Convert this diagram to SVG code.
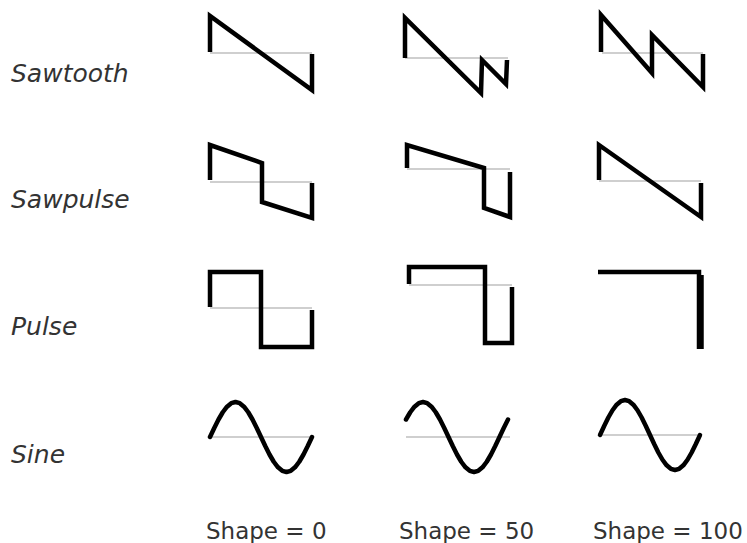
<svg xmlns="http://www.w3.org/2000/svg" width="747" height="543" viewBox="0 0 747 543">
<style>
.lbl{font-family:"DejaVu Sans","Noto Sans",sans-serif;font-style:italic;font-size:25px;fill:#333}
.cap{font-family:"DejaVu Sans","Noto Sans",sans-serif;font-size:23px;fill:#333}
.axis{stroke:#cfcfcf;stroke-width:2;fill:none}
.wave{stroke:#000;stroke-width:4.5;fill:none;stroke-linejoin:miter;stroke-linecap:butt}
.sine{stroke:#000;stroke-width:4.5;fill:none;stroke-linejoin:round;stroke-linecap:round}
</style>
<rect width="747" height="543" fill="#fff"/>
<g id="labels">
<text class="lbl" x="11" y="82">Sawtooth</text>
<text class="lbl" x="11" y="208">Sawpulse</text>
<text class="lbl" x="11" y="335">Pulse</text>
<text class="lbl" x="11" y="463">Sine</text>
<text class="cap" x="206" y="539">Shape = 0</text>
<text class="cap" x="399" y="539">Shape = 50</text>
<text class="cap" x="593" y="539">Shape = 100</text>
</g>
<g id="sawtooth-0">
<line class="axis" x1="210" y1="53" x2="312" y2="53"/>
<polyline class="wave" points="210,52 210,16 312,90 312,54"/>
</g>
<g id="sawtooth-50">
<line class="axis" x1="405" y1="58" x2="508" y2="58"/>
<polyline class="wave" points="405,58 405,18 481,93 482,60 506,84 507,60"/>
</g>
<g id="sawtooth-100">
<line class="axis" x1="602" y1="53" x2="703" y2="53"/>
<polyline class="wave" points="601,52 601,15 652,73 652,35 703,87 703,54"/>
</g>
<g id="sawpulse-0">
<line class="axis" x1="210" y1="182" x2="312" y2="182"/>
<polyline class="wave" points="210,180 210,145 262,163 262,202 312,218 312,183"/>
</g>
<g id="sawpulse-50">
<line class="axis" x1="407" y1="169" x2="510" y2="169"/>
<polyline class="wave" points="407,168 407,145 484,168 484,208 510,217 510,172"/>
</g>
<g id="sawpulse-100">
<line class="axis" x1="599" y1="181" x2="701" y2="181"/>
<polyline class="wave" points="599,180 599,145 701,217 701,183"/>
</g>
<g id="pulse-0">
<line class="axis" x1="210" y1="308" x2="312" y2="308"/>
<polyline class="wave" points="210,307 210,272 261,272 261,347 312,347 312,310"/>
</g>
<g id="pulse-50">
<line class="axis" x1="409" y1="285" x2="512" y2="285"/>
<polyline class="wave" points="409,284 409,267 485,267 485,343 512,343 512,287"/>
</g>
<g id="pulse-100">
<polyline class="wave" points="598,272 699,272 699,349"/>
<line class="wave" x1="701.5" y1="275" x2="701.5" y2="349"/>
</g>
<g id="sine-0">
<line class="axis" x1="210" y1="437" x2="312" y2="437"/>
<polyline class="sine" points="210,437 214.25,427.94 218.5,419.5 222.75,412.25 227,406.69 231.25,403.19 235.5,402 239.75,403.19 244,406.69 248.25,412.25 252.5,419.5 256.75,427.94 261,437 265.25,446.06 269.5,454.5 273.75,461.75 278,467.31 282.25,470.81 286.5,472 290.75,470.81 295,467.31 299.25,461.75 303.5,454.5 307.75,446.06 312,437"/>
</g>
<g id="sine-50">
<line class="axis" x1="406" y1="437" x2="510" y2="437"/>
<polyline class="sine" points="406,419.5 410.25,412.25 414.5,406.69 418.75,403.19 423,402 427.25,403.19 431.5,406.69 435.75,412.25 440,419.5 444.25,427.94 448.5,437 452.75,446.06 457,454.5 461.25,461.75 465.5,467.31 469.75,470.81 474,472 478.25,470.81 482.5,467.31 486.75,461.75 491,454.5 495.25,446.06 499.5,437 503.75,427.94 508,419.5"/>
</g>
<g id="sine-100">
<line class="axis" x1="600" y1="435" x2="702" y2="435"/>
<polyline class="sine" points="600,435 604.17,425.94 608.33,417.5 612.5,410.25 616.67,404.69 620.83,401.19 625,400 629.17,401.19 633.33,404.69 637.5,410.25 641.67,417.5 645.83,425.94 650,435 654.17,444.06 658.33,452.5 662.5,459.75 666.67,465.31 670.83,468.81 675,470 679.17,468.81 683.33,465.31 687.5,459.75 691.67,452.5 695.83,444.06 700,435"/>
</g>
</svg>
